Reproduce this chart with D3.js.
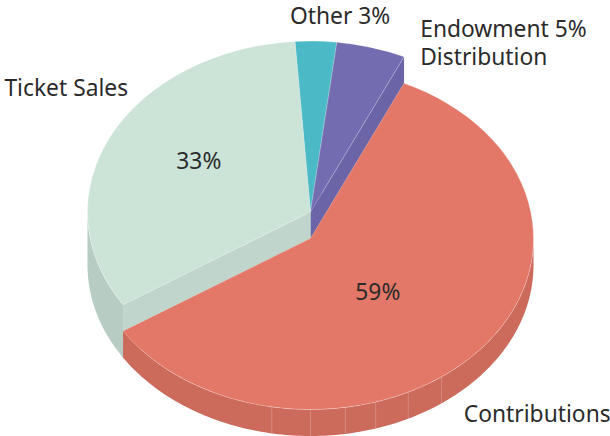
<!DOCTYPE html>
<html>
<head>
<meta charset="utf-8">
<script src="https://cdn.jsdelivr.net/npm/d3@7/dist/d3.min.js"></script>
<style>
  body { margin: 0; background: #fff; }
  svg { display: block; }
</style>
</head>
<body>
<script>
// slices in clockwise order, starting just left of 12 o'clock
const categories = ["Other", "Endowment Distribution", "Contributions", "Ticket Sales"];
const values = [3, 5, 59, 33];
const outerLabels = [["Other 3%"], ["Endowment 5%", "Distribution"], ["Contributions"], ["Ticket Sales"]];
const innerLabels = ["", "", "59%", "33%"];
const topColors = ["#4bbac6", "#736cb0", "#e37868", "#cce3d8"];
const faceColors = ["#45abb6", "#6b64a6", "#cd6b5d", "#c0d5cb"];
const wallColors = ["#43a6b0", "#6761a0", "#cc6a5c", "#b7ccc2"];
const thickness = [2, 2, 1, 2]; // in depth units

const width = 610;
const height = 436;
const cx = 310.5;
const baseY = 265;
const rx = 223;
const ry = 171;
const unit = 26.5;
const deg = Math.PI / 180;

// label placement, relative to the rim point at each slice's mid angle
const outerNudge = [[-26, -17, "start"], [49, -10, "start"], [-15, 45, "start"], [17, -39, "end"]];
const innerPos = [null, null, [0.4, 9], [0.56, -8]];
const seams = [144, 154, 163, 171, 180, 190];

const pie = d3
  .pie()
  .sort(null)
  .startAngle(-4 * deg)
  .endAngle(356 * deg);

const arcs = pie(values).map((d, i) => ({ ...d, i, h: thickness[i] * unit }));
const maxH = d3.max(arcs, (d) => d.h);

const pt = (a, lift, k = 1) => [cx + rx * k * Math.sin(a), baseY - lift - ry * k * Math.cos(a)];
const line = d3.line();

const topArc = d3.arc().innerRadius(0).outerRadius(rx);

function facePath(d, a) {
  return line([pt(0, d.h, 0), pt(a, d.h), pt(a, 0), pt(0, 0, 0)]) + "Z";
}

function wallPath(d) {
  const a0 = Math.max(d.startAngle, 90 * deg);
  const a1 = Math.min(d.endAngle, 270 * deg);
  if (a1 <= a0) return null;
  const n = Math.ceil((a1 - a0) / deg);
  const ts = d3.range(n + 1).map((j) => a0 + ((a1 - a0) * j) / n);
  const pts = ts.map((a) => pt(a, d.h)).concat(ts.reverse().map((a) => pt(a, 0)));
  return line(pts) + "Z";
}

const svg = d3
  .select("body")
  .append("svg")
  .attr("width", width)
  .attr("height", height)
  .attr("font-family", "'Noto Sans', sans-serif")
  .attr("font-size", 22.8)
  .attr("fill", "#2b2b2b");

const tall = arcs.filter((d) => d.h === maxH);
const low = arcs.filter((d) => d.h < maxH);

// radial faces of the tall slices
svg
  .append("g")
  .selectAll("path")
  .data(tall.flatMap((d) => [[d, d.startAngle], [d, d.endAngle]]))
  .join("path")
  .attr("d", ([d, a]) => facePath(d, a))
  .attr("fill", ([d]) => faceColors[d.i]);

function solid(g, data, withFaces) {
  if (withFaces) {
    g.append("g")
      .selectAll("path")
      .data(data.flatMap((d) => [[d, d.startAngle], [d, d.endAngle]]))
      .join("path")
      .attr("d", ([d, a]) => facePath(d, a))
      .attr("fill", ([d]) => faceColors[d.i]);
  }
  g.append("g")
    .selectAll("path")
    .data(data.filter((d) => wallPath(d)))
    .join("path")
    .attr("d", wallPath)
    .attr("fill", (d) => wallColors[d.i]);

  // faint seams on the front wall
  g.append("g")
    .attr("stroke", "#fff")
    .attr("stroke-opacity", 0.3)
    .attr("stroke-width", 0.7)
    .selectAll("line")
    .data(
      data.flatMap((d) =>
        seams.map((a) => [d, a * deg]).filter(([d, a]) => a > d.startAngle && a < d.endAngle)
      )
    )
    .join("line")
    .attr("x1", ([d, a]) => pt(a, d.h)[0])
    .attr("y1", ([d, a]) => pt(a, d.h)[1])
    .attr("x2", ([d, a]) => pt(a, 0)[0])
    .attr("y2", ([d, a]) => pt(a, 0)[1]);

  g.append("g")
    .selectAll("path")
    .data(data)
    .join("path")
    .attr("d", topArc)
    .attr("transform", (d) => `translate(${cx},${baseY - d.h}) scale(1,${ry / rx})`)
    .attr("fill", (d) => topColors[d.i])
    .attr("stroke", "#fff")
    .attr("stroke-opacity", 0.35)
    .attr("stroke-width", 0.7)
    .attr("vector-effect", "non-scaling-stroke");
}

solid(svg.append("g"), low, true);
solid(svg.append("g"), tall, false);

// labels outside the pie
const mid = (d) => (d.startAngle + d.endAngle) / 2;
svg
  .append("g")
  .selectAll("text")
  .data(arcs)
  .join("text")
  .attr("text-anchor", (d) => outerNudge[d.i][2])
  .attr("transform", (d) => {
    const lift = Math.cos(mid(d)) < 0 ? 0 : d.h;
    const [x, y] = pt(mid(d), lift);
    return `translate(${x + outerNudge[d.i][0]},${y + outerNudge[d.i][1]})`;
  })
  .selectAll("tspan")
  .data((d) => outerLabels[d.i])
  .join("tspan")
  .attr("x", 0)
  .attr("dy", (t, j) => (j ? 28 : 0))
  .text((t) => t);

// percentages inside the big slices
svg
  .append("g")
  .attr("text-anchor", "middle")
  .selectAll("text")
  .data(arcs.filter((d) => innerLabels[d.i]))
  .join("text")
  .attr("x", (d) => pt(mid(d), d.h, innerPos[d.i][0])[0])
  .attr("y", (d) => pt(mid(d), d.h, innerPos[d.i][0])[1] + innerPos[d.i][1])
  .attr("dy", "0.35em")
  .text((d) => innerLabels[d.i]);
</script>
</body>
</html>
